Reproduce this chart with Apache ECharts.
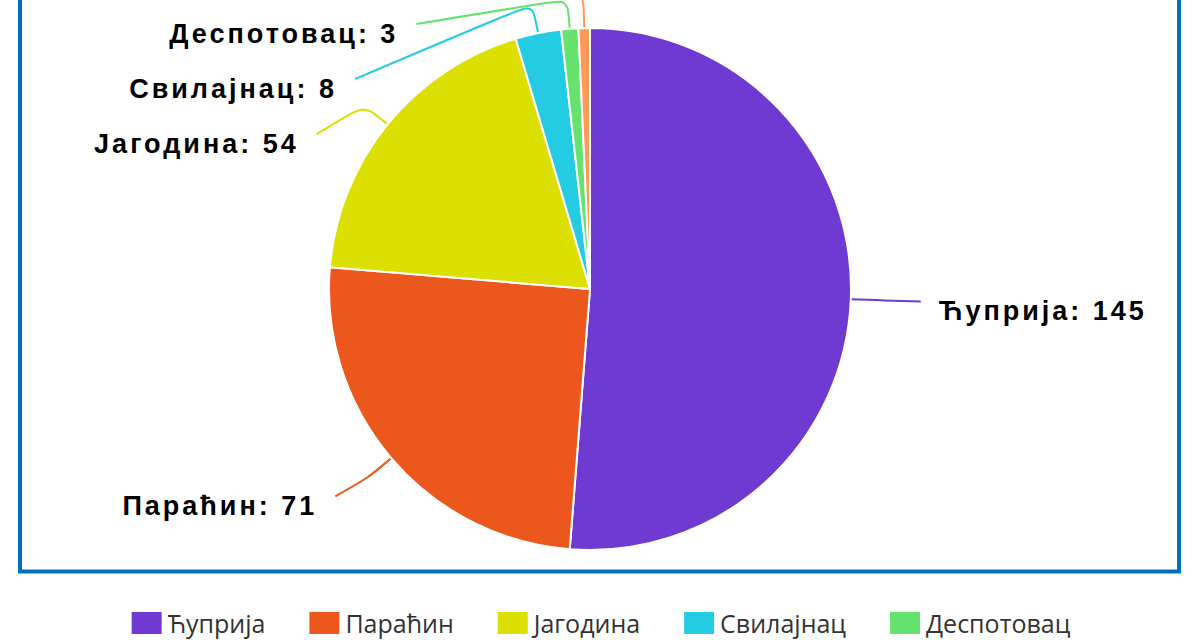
<!DOCTYPE html>
<html><head><meta charset="utf-8">
<script src="https://cdn.jsdelivr.net/npm/echarts@6/dist/echarts.min.js"></script>
<style>
html,body{margin:0;padding:0;width:1200px;height:640px;overflow:hidden;background:#fff;}
#chart{position:absolute;left:0;top:-80px;width:1200px;height:780px;}
#chart text[style*="Liberation"], #chart text[font-family*="Liberation"]{letter-spacing:3px;}
</style></head><body><div id="chart"></div>
<script>
const categories = ['Ћуприја', 'Параћин', 'Јагодина', 'Свилајнац', 'Деспотовац', 'Рековац'];
const values = [145, 71, 54, 8, 3, 2];
const colors = ['#6e3ad2', '#ec571e', '#dce000', '#24cce3', '#66e26f', '#ff9955'];

const T = 80;
const CX = 590, CY = 289 + T, R = 261, BEND = 30;
const labelFont = {fontFamily: 'Liberation Sans', fontWeight: 'bold', fontSize: 27, color: '#000'};
const chart = echarts.init(document.getElementById('chart'), null, {renderer: 'svg'});
chart.setOption({
  animation: false,
  color: colors,
  graphic: [{
    type: 'rect', z: -1,
    shape: {x: 20, y: 20, width: 1159, height: 571.5 + T - 20},
    style: {fill: 'none', stroke: '#0070C0', lineWidth: 4}
  }],
  legend: {
    top: 702 - 12 - 5, left: 'center', width: 1000,
    itemWidth: 32, itemHeight: 24, itemGap: 42, itemTextGap: 12, icon: 'rect',
    textStyle: {fontFamily: 'Open Sans', fontSize: 25, color: '#333'},
    data: categories
  },
  series: [{
    type: 'pie', center: [CX, CY], radius: R, startAngle: 90, clockwise: true,
    itemStyle: {borderColor: '#fff', borderWidth: 2},
    label: Object.assign({
      show: true, formatter: '{t|{b}: {c}}', distanceToLabelLine: 18,
      backgroundColor: 'rgba(255,255,255,0)', padding: 0,
      rich: {t: Object.assign({padding: [23, 0, 3, 0]}, labelFont)}
    }, labelFont),
    labelLine: {length: 59, length2: 11, smooth: 0.25, lineStyle: {width: 2}},
    labelLayout: function (p) {
      const pts = p.labelLinePoints;
      if (!pts) return {};
      const p0 = pts[0];
      const dx = p0[0] - CX, dy = p0[1] - CY, d = Math.sqrt(dx * dx + dy * dy);
      const p1 = [p0[0] + dx / d * BEND, p0[1] + dy / d * BEND];
      return {labelLinePoints: [p0.slice(), p1, pts[2].slice()]};
    },
    data: categories.map((n, i) => ({name: n, value: values[i]}))
  }]
});
</script>
</body></html>
